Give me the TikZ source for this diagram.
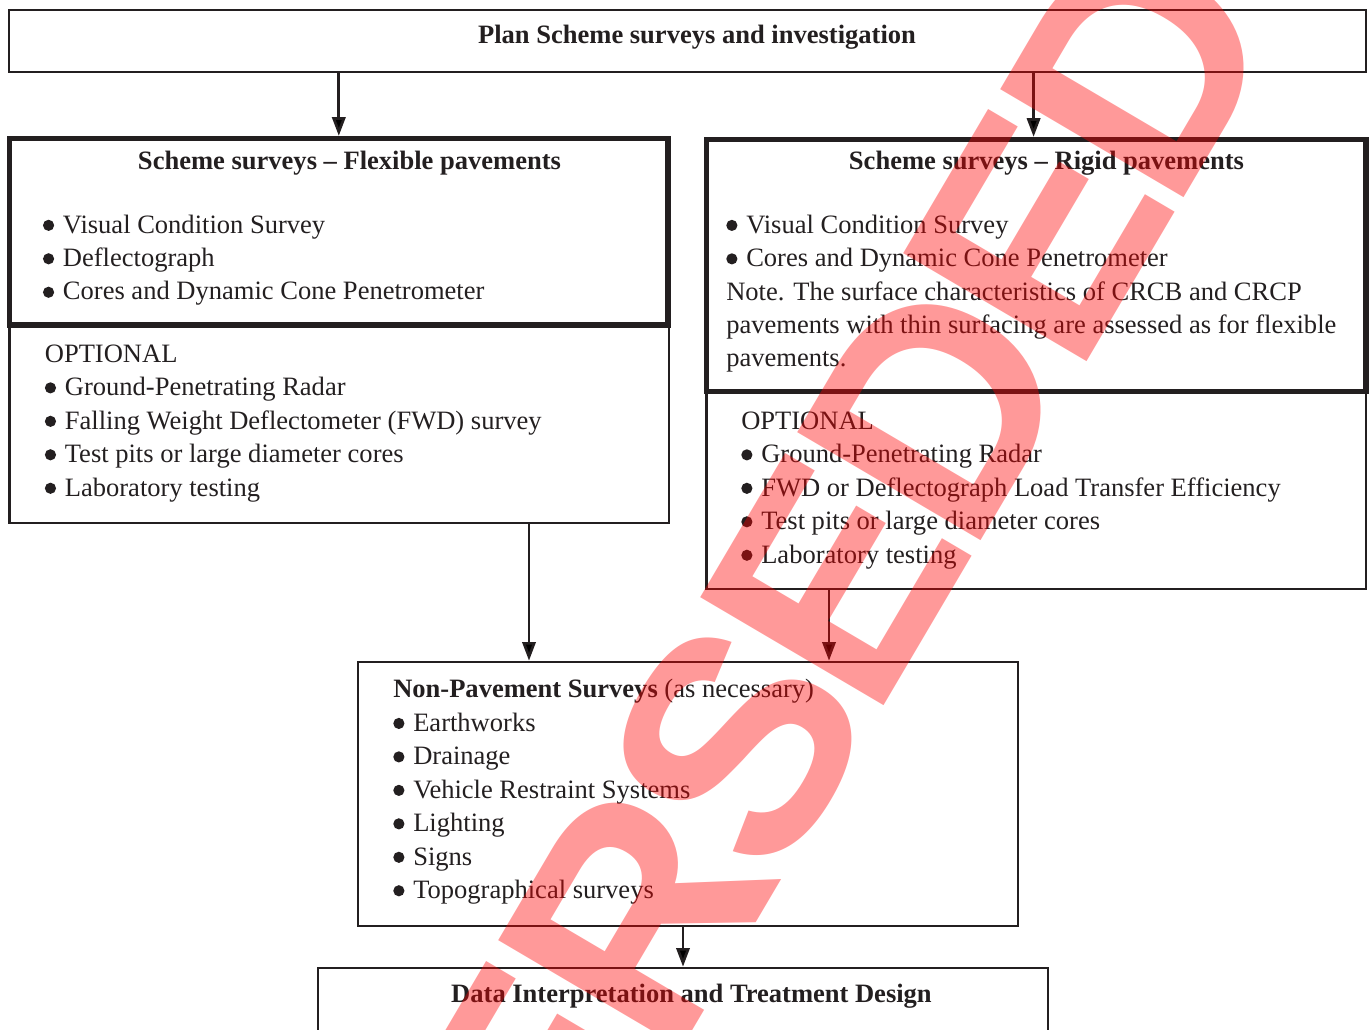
\documentclass[tikz,border=0pt]{standalone}
\usepackage{fontspec}
\setmainfont{Liberation Serif}
\newfontfamily\stampfont{Liberation Sans Bold}[LetterSpace=-5]
\usetikzlibrary{arrows.meta, positioning, fit}
\definecolor{ink}{HTML}{231F20}
\newcommand{\bodysize}{\fontsize{19.9}{25.1}\selectfont}
\tikzstyle{thinbox} = [rectangle, draw=ink, line width=2pt, inner sep=0pt]
\tikzstyle{thickbox} = [rectangle, draw=ink, line width=4pt, inner sep=0pt]
\tikzstyle{heading} = [font=\bodysize\bfseries, inner sep=0pt, anchor=base]
\tikzstyle{itemlist} = [font=\bodysize, align=left, inner sep=0pt, anchor=base west]
\tikzstyle{stamp} = [font=\stampfont\fontsize{232}{232}\selectfont, text=red, text opacity=0.4, rotate=59.5, inner sep=0pt]
\tikzstyle{arrow} = [draw=ink, line width=2pt, -{Triangle[length=14pt,width=10pt]}]
\newcommand{\blt}{\tikz[baseline=-5.8pt]\fill[ink] (0,0) circle (4.2pt);\hspace{6.6pt}}
\begin{document}
\begin{tikzpicture}[x=0.75pt, y=-0.75pt, every node/.style={text=ink}]
\useasboundingbox (0,0) rectangle (1370,1030);

\node (plan) [thinbox, fit={(9,10) (1366,72)}] {};
\node (plantitle) [heading] at (697,44) {Plan Scheme surveys and investigation};

% flexible pavements (lists sit on the baseline of their last line)
\node (flexopt) [thinbox, fit={(9.4,325) (669,523)}] {};
\node (flex) [thickbox, fit={(9.6,138.5) (668,325)}] {};
\node (flextitle) [heading] at (349.5,170) {Scheme surveys -- Flexible pavements};
\node (flexlist) [itemlist] at (42.7,300) {\blt Visual Condition Survey\\ \blt Deflectograph\\ \blt Cores and Dynamic Cone Penetrometer};
\node (flexoptlist) [itemlist] at (44.6,496) {OPTIONAL\\ \blt Ground-Penetrating Radar\\ \blt Falling Weight Deflectometer (FWD) survey\\ \blt Test pits or large diameter cores\\ \blt Laboratory testing};

% rigid pavements
\node (rigidopt) [thinbox, fit={(706.5,391.5) (1366,589)}] {};
\node (rigid) [thickbox, fit={(706.5,139.5) (1366,391.5)}] {};
\node (rigidtitle) [heading] at (1046.5,170) {Scheme surveys -- Rigid pavements};
\node (rigidlist) [itemlist] at (726,367) {\blt Visual Condition Survey\\ \blt Cores and Dynamic Cone Penetrometer\\ Note. The surface characteristics of CRCB and CRCP\\ pavements with thin surfacing are assessed as for flexible\\ pavements.};
\node (rigidoptlist) [itemlist] at (741,563) {OPTIONAL\\ \blt Ground-Penetrating Radar\\ \blt FWD or Deflectograph Load Transfer Efficiency\\ \blt Test pits or large diameter cores\\ \blt Laboratory testing};

\node (nonpav) [thinbox, fit={(358,662) (1018,926)}] {};
\node (nonpavlist) [itemlist] at (393,898.5) {\textbf{Non-Pavement Surveys} (as necessary)\\ \blt Earthworks\\ \blt Drainage\\ \blt Vehicle Restraint Systems\\ \blt Lighting\\ \blt Signs\\ \blt Topographical surveys};

\node (design) [thinbox, fit={(318,968) (1048,1032)}] {};
\node (designtitle) [heading] at (691.5,1002) {Data Interpretation and Treatment Design};

\draw [arrow] (flex.north |- plan.south) -- (flex.north);
\draw [arrow] ([xshift=-2pt]rigid.north |- plan.south) -- ([xshift=-2pt]rigid.north);
\draw [arrow] ([xshift=-119.25pt]nonpav.north |- flexopt.south) -- ([xshift=-119.25pt]nonpav.north);
\draw [arrow] ([xshift=105.75pt]nonpav.north |- rigidopt.south) -- ([xshift=105.75pt]nonpav.north);
\draw [arrow] (design.north |- nonpav.south) -- (design.north);

\node (superseded) [stamp] at (689,827) {SUPERSEDED};
\end{tikzpicture}
\end{document}
